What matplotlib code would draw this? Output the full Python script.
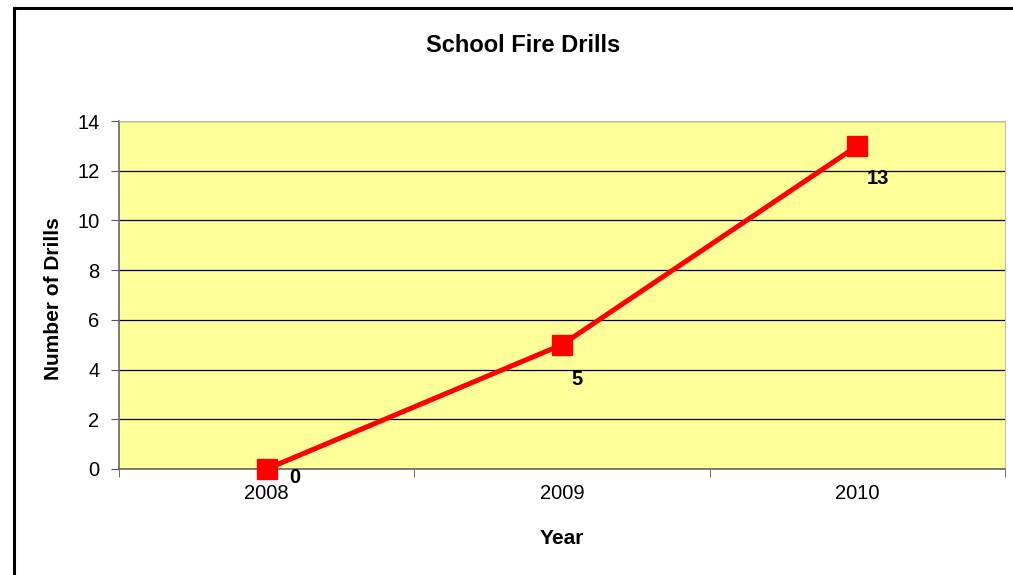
import matplotlib.pyplot as plt
from matplotlib.lines import Line2D

# Data
years = ["2008", "2009", "2010"]
drills = [0, 5, 13]
yticks = [0, 2, 4, 6, 8, 10, 12, 14]

plt.rcParams['font.family'] = ['Liberation Sans', 'DejaVu Sans']

fig = plt.figure(figsize=(10.13, 5.75), dpi=100)
ax = fig.add_axes([119 / 1013, 1 - 469 / 575, (1005 - 119) / 1013, (469 - 121) / 575])
ax.set_facecolor("#FFFF99")

x = list(range(len(years)))
ax.plot(x, drills, color="red", linewidth=3.6, marker="s", markersize=15,
        solid_capstyle="round", solid_joinstyle="round", zorder=3, clip_on=False)

# data labels, each nudged like in the original
offsets = [(20, -6), (11, -25), (14.5, -23.5)]
for xi, v, off in zip(x, drills, offsets):
    ax.annotate(str(v), (xi, v), xytext=off, textcoords="offset points",
                fontsize=14.5, fontweight="bold", ha="center", va="center", zorder=4,
                annotation_clip=False)

ax.set_xlim(-0.5, len(years) - 0.5)
ax.set_ylim(0, 14)
ax.set_yticks(yticks)
ax.yaxis.grid(True, color="black", linewidth=0.9)
ax.set_axisbelow(True)

ax.set_xticks(x)
ax.set_xticklabels(years)
ax.set_xticks([i - 0.5 for i in range(len(years) + 1)], minor=True)
ax.tick_params(axis="x", which="major", length=0, labelsize=14.5, pad=11)
ax.tick_params(axis="x", which="minor", length=6, direction="out", color="#555555")
ax.tick_params(axis="y", length=6, direction="out", labelsize=14.5, color="#555555", pad=8)

for side in ["top", "right"]:
    ax.spines[side].set_color("#bbbbbb")
for side in ["left", "bottom"]:
    ax.spines[side].set_color("#666666")
    ax.spines[side].set_linewidth(1.2)

fig.text(523 / 1013, 1 - 45 / 575, "School Fire Drills", fontsize=17,
         fontweight="bold", ha="center", va="center")
ax.set_xlabel("Year", fontsize=15, fontweight="bold")
ax.set_ylabel("Number of Drills", fontsize=15, fontweight="bold")
ax.xaxis.set_label_coords(0.5, -(538 - 469) / 348)
ax.xaxis.label.set_va("center")
ax.yaxis.set_label_coords(-(119 - 54) / 886, 0.49)
ax.yaxis.label.set_va("center")

# outer chart border (only left and top visible in the crop)
fig.add_artist(Line2D([14 / 1013, 14 / 1013], [0, 1 - 8 / 575], color="black", linewidth=2.2))
fig.add_artist(Line2D([14 / 1013, 1], [1 - 8 / 575, 1 - 8 / 575], color="black", linewidth=2.2))

fig.savefig("out.png", dpi=100)
